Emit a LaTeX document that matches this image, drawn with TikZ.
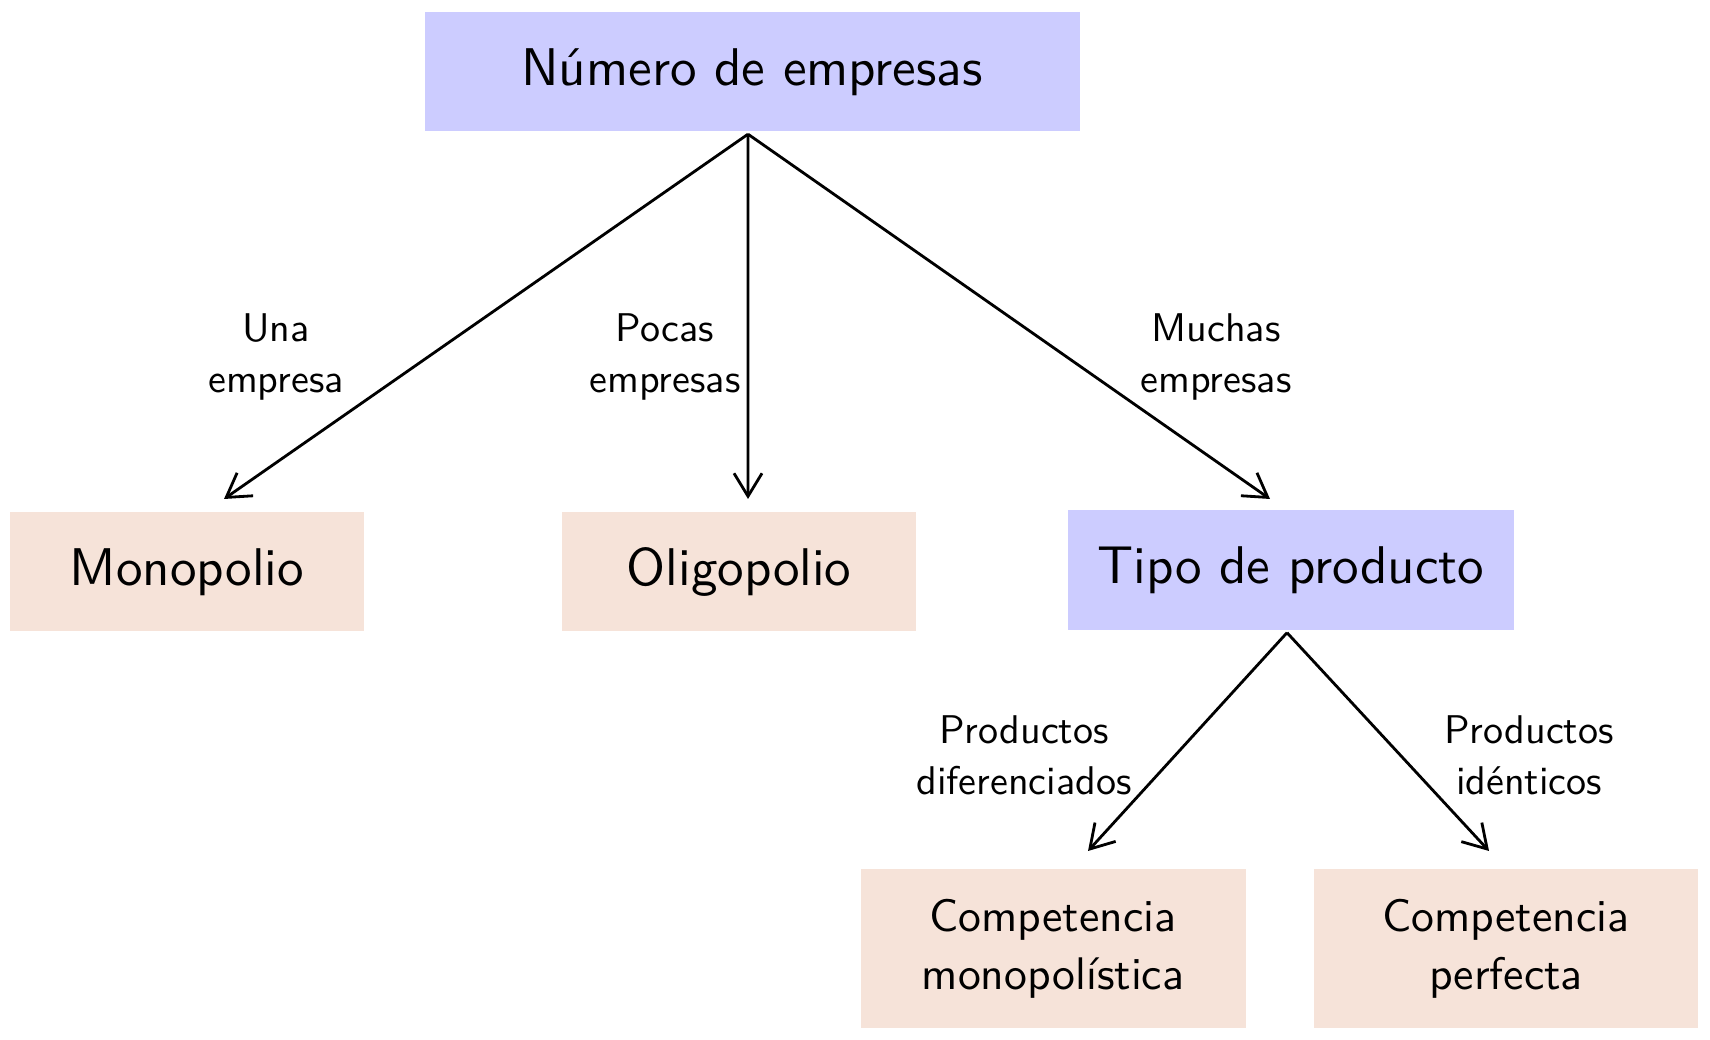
\documentclass[tikz,border=0pt]{standalone}
\usepackage{fontspec}
\setsansfont{lmsans10-regular.otf}
\usetikzlibrary{arrows.meta}
\usetikzlibrary{positioning}
\definecolor{Lila}{RGB}{204,204,255}
\definecolor{Durazno}{RGB}{246,227,217}
\tikzset{
  % edges with open arrow tips, a bit thicker
  every edge/.append style={-{Straight Barb[length=2.3mm,width=2.8mm]},thick},
  % coloured boxes without border
  caja/.style={
    fill=#1,inner sep=0pt,minimum height=1.19cm,
    font=\sffamily\fontsize{15.1}{16.5}\selectfont,align=center,
  },
  pregunta/.style={caja=Lila},
  mercado/.style={caja=Durazno},
  % two-line boxes use a smaller size
  doble/.style={mercado,minimum height=1.59cm,font=\sffamily\fontsize{13}{16.4}\selectfont},
  % labels next to the arrows
  etiqueta/.style={font=\sffamily\fontsize{11.4}{14.5}\selectfont,align=center,inner sep=0pt},
}

\begin{document}
\begin{tikzpicture}
  \useasboundingbox (0,0) rectangle (17.1,10.4);

  \node[pregunta,minimum width=6.55cm] (num) at (7.52,9.68) {Número de empresas};
  %
  \node[mercado,minimum width=3.53cm] (mono) at (1.87,4.68) {Monopolio};
  \node[mercado,minimum width=3.54cm] (oligo) at (7.39,4.68) {Oligopolio};
  \node[pregunta,minimum width=4.46cm,minimum height=1.2cm] (tipo) at (12.91,4.70) {Tipo de producto};
  %
  \node[doble,minimum width=3.85cm] (cmono) at (10.53,0.91) {Competencia\\monopolística};
  \node[doble,minimum width=3.84cm] (cperf) at (15.06,0.91) {Competencia\\perfecta};

  % arrow ends
  \coordinate (mono-in) at (2.24,5.41);
  \coordinate (oligo-in) at (7.48,5.41);
  \coordinate (tipo-in) at (12.70,5.41);
  \coordinate (cmono-in) at (10.88,1.89);
  \coordinate (cperf-in) at (14.89,1.89);

  \node[etiqueta] (una) at (2.76,6.83) {Una\\empresa};
  \node[etiqueta] (pocas) at (6.65,6.83) {Pocas\\empresas};
  \node[etiqueta] (muchas) at (12.16,6.83) {Muchas\\empresas};
  \node[etiqueta] (dif) at (10.24,2.85) {Productos\\diferenciados};
  \node[etiqueta] (ident) at (15.29,2.85) {Productos\\idénticos};

  \path
  ([xshift=-0.4mm,yshift=-0.2mm]num.south) edge (mono-in)
  ([xshift=-0.4mm,yshift=-0.2mm]num.south) edge (oligo-in)
  ([xshift=-0.4mm,yshift=-0.2mm]num.south) edge (tipo-in)
  ([xshift=-0.4mm,yshift=-0.2mm]tipo.south) edge (cmono-in)
  ([xshift=-0.4mm,yshift=-0.2mm]tipo.south) edge (cperf-in)
  ;
\end{tikzpicture}
\end{document}
